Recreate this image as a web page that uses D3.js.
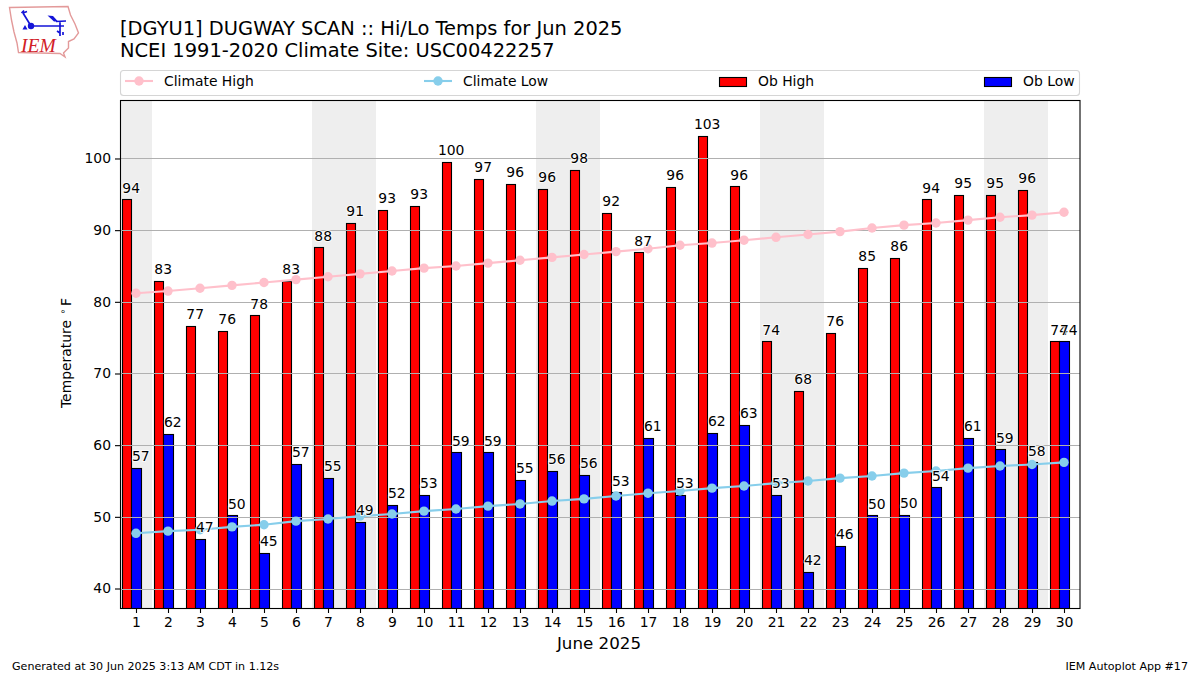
<!DOCTYPE html>
<html>
<head>
<meta charset="utf-8">
<script src="https://cdn.jsdelivr.net/npm/d3@7"></script>
<style>
html, body { margin: 0; padding: 0; background: #fff; }
svg { display: block; }
text { font-family: "DejaVu Sans", sans-serif; fill: #000; }
</style>
</head>
<body>
<svg></svg>
<script>
const width = 1200;
const height = 675;
const left = 120, right = 1080, top_ = 100, bottom = 608;

// day, ob high, ob low, climate high, climate low
const table = [
    [1, 94.3, 56.8, 81.2, 47.7],
    [2, 82.9, 61.6, 81.5, 48.0],
    [3, 76.6, 46.9, 81.9, 48.2],
    [4, 75.9, 50.2, 82.3, 48.6],
    [5, 78.1, 45.0, 82.7, 48.9],
    [6, 82.9, 57.4, 83.1, 49.4],
    [7, 87.6, 55.4, 83.5, 49.7],
    [8, 91.0, 49.3, 83.9, 50.1],
    [9, 92.8, 51.7, 84.3, 50.4],
    [10, 93.4, 53.1, 84.7, 50.8],
    [11, 99.5, 59.0, 85.0, 51.1],
    [12, 97.1, 59.0, 85.4, 51.5],
    [13, 96.4, 55.2, 85.8, 51.8],
    [14, 95.7, 56.4, 86.2, 52.2],
    [15, 98.4, 55.8, 86.6, 52.5],
    [16, 92.4, 53.4, 87.0, 52.9],
    [17, 86.9, 61.0, 87.4, 53.3],
    [18, 96.0, 53.1, 87.9, 53.6],
    [19, 103.1, 61.7, 88.2, 54.0],
    [20, 96.1, 62.8, 88.6, 54.3],
    [21, 74.49, 53.1, 89.0, 54.7],
    [22, 67.6, 42.3, 89.4, 55.0],
    [23, 75.7, 46.0, 89.8, 55.4],
    [24, 84.7, 50.2, 90.3, 55.7],
    [25, 86.1, 50.3, 90.7, 56.1],
    [26, 94.3, 54.1, 91.0, 56.4],
    [27, 94.9, 61.0, 91.4, 56.8],
    [28, 94.9, 59.4, 91.8, 57.1],
    [29, 95.6, 57.6, 92.1, 57.3],
    [30, 74.49, 74.49, 92.5, 57.6]
];
const data = table.map((d) => {
    return { day: d[0], high: d[1], low: d[2], chigh: d[3], clow: d[4] };
});

// weekend shading, first and last day of each block
const weekends = [[1, 1], [7, 8], [14, 15], [21, 22], [28, 29]];

let svg = d3.select("svg").attr("width", width).attr("height", height);

let xScale = d3.scaleLinear().domain([0.5, 30.5]).range([left, right]);
let yScale = d3.scaleLinear().domain([37.28, 108.16]).range([bottom, top_]);

svg.append("clipPath").attr("id", "plot")
    .append("rect")
    .attr("x", left).attr("y", top_)
    .attr("width", right - left).attr("height", bottom - top_);

let plot = svg.append("g").attr("clip-path", "url(#plot)");

//Weekend bands
plot.selectAll(".weekend").data(weekends).enter().append("rect")
    .attr("class", "weekend")
    .attr("x", (d) => xScale(d[0] - 0.5))
    .attr("width", (d) => xScale(d[1] + 0.5) - xScale(d[0] - 0.5))
    .attr("y", top_)
    .attr("height", bottom - top_)
    .attr("fill", "#eeeeee");

//Bars, the red ones first so the blue ones sit on top of them
function addBars(key, color, x0, x1) {
    plot.selectAll(".bar-" + key).data(data).enter().append("rect")
        .attr("class", "bar-" + key)
        .attr("x", (d) => Math.round(xScale(d.day + x0)) + 0.5)
        .attr("width", (d) => Math.round(xScale(d.day + x1)) - Math.round(xScale(d.day + x0)))
        .attr("y", (d) => Math.round(yScale(d[key])) + 0.5)
        .attr("height", (d) => bottom + 10 - yScale(d[key]))
        .attr("fill", color)
        .attr("stroke", "#000")
        .attr("stroke-width", 1.1);
}
addBars("high", "#ff0000", -0.44, -0.15);
addBars("low", "#0000ff", -0.15, 0.16);

//Grid goes above the bars but under the lines
const yTicks = [40, 50, 60, 70, 80, 90, 100];
plot.selectAll(".grid").data(yTicks).enter().append("line")
    .attr("class", "grid")
    .attr("x1", left).attr("x2", right)
    .attr("y1", (d) => Math.round(yScale(d)) + 0.5)
    .attr("y2", (d) => Math.round(yScale(d)) + 0.5)
    .attr("stroke", "#b0b0b0")
    .attr("stroke-width", 1.1);

//Climate lines
function addLine(key, color) {
    let line = d3.line().x((d) => xScale(d.day)).y((d) => yScale(d[key]));
    plot.append("path").datum(data)
        .attr("d", line)
        .attr("fill", "none")
        .attr("stroke", color)
        .attr("stroke-width", 2.1);
    plot.selectAll(".dot-" + key).data(data).enter().append("circle")
        .attr("class", "dot-" + key)
        .attr("cx", (d) => xScale(d.day))
        .attr("cy", (d) => yScale(d[key]))
        .attr("r", 4.7)
        .attr("fill", color);
}
addLine("chigh", "#ffc0cb");
addLine("clow", "#87ceeb");

//Value labels, with a white halo
let labels = [];
data.forEach((d) => {
    labels.push({ x: d.day - 0.15, v: d.high });
    labels.push({ x: d.day + 0.15, v: d.low });
});
svg.append("g").selectAll("text").data(labels).enter().append("text")
    .attr("x", (d) => xScale(d.x))
    .attr("y", (d) => yScale(d.v + 0.95))
    .attr("text-anchor", "middle")
    .attr("font-size", "13.9px")
    .attr("stroke", "#fff")
    .attr("stroke-width", 2)
    .attr("stroke-opacity", 0.8)
    .attr("paint-order", "stroke")
    .text((d) => Math.round(d.v));

//Axes
let xAxis = d3.axisBottom(xScale)
    .tickValues(data.map((d) => d.day))
    .tickFormat(d3.format("d"))
    .tickSize(5).tickPadding(4).tickSizeOuter(0);
let yAxis = d3.axisLeft(yScale)
    .tickValues(yTicks)
    .tickSize(5).tickPadding(4).tickSizeOuter(0);

let gx = svg.append("g").attr("transform", "translate(0," + bottom + ")").call(xAxis);
let gy = svg.append("g").attr("transform", "translate(" + left + ",0)").call(yAxis);
[gx, gy].forEach((g) => {
    g.select(".domain").remove();
    g.selectAll("text").attr("font-size", "13.9px").attr("font-family", "DejaVu Sans");
    g.selectAll("line").attr("stroke", "#000").attr("stroke-width", 1.1);
});

svg.append("rect")
    .attr("x", left + 0.5).attr("y", top_ + 0.5)
    .attr("width", right - left - 0.5).attr("height", bottom - top_)
    .attr("fill", "none")
    .attr("stroke", "#000")
    .attr("stroke-width", 1.1);

//Axis titles
svg.append("text")
    .attr("x", 599).attr("y", 649)
    .attr("text-anchor", "middle")
    .attr("font-size", "16.7px")
    .text("June 2025");

let yTitle = svg.append("text")
    .attr("transform", "translate(71,408) rotate(-90)")
    .attr("font-size", "13.9px");
yTitle.append("tspan").attr("x", 0).text("Temperature");
yTitle.append("tspan").attr("x", 93.5).attr("y", -5.5).attr("font-size", "9.7px").text("\u2218");
yTitle.append("tspan").attr("x", 102).attr("y", 0).text("F");

//Page titles and footers
svg.append("text").attr("x", 120).attr("y", 35).attr("font-size", "19.45px")
    .text("[DGYU1] DUGWAY SCAN :: Hi/Lo Temps for Jun 2025");
svg.append("text").attr("x", 120).attr("y", 57).attr("font-size", "19.45px")
    .text("NCEI 1991-2020 Climate Site: USC00422257");
svg.append("text").attr("x", 12).attr("y", 670).attr("font-size", "11.1px")
    .text("Generated at 30 Jun 2025 3:13 AM CDT in 1.12s");
svg.append("text").attr("x", 1188).attr("y", 670).attr("font-size", "11.1px")
    .attr("text-anchor", "end")
    .text("IEM Autoplot App #17");

//Legend
svg.append("rect")
    .attr("x", 120.5).attr("y", 70.5).attr("width", 959).attr("height", 25).attr("rx", 3)
    .attr("fill", "#fff").attr("stroke", "#d5d5d5").attr("stroke-width", 1.1);
const legend = [
    { name: "Climate High", color: "#ffc0cb", x: 125, type: "line" },
    { name: "Climate Low", color: "#87ceeb", x: 424, type: "line" },
    { name: "Ob High", color: "#ff0000", x: 719, type: "bar" },
    { name: "Ob Low", color: "#0000ff", x: 984, type: "bar" }
];
legend.forEach((d) => {
    if (d.type == "line") {
        svg.append("line").attr("x1", d.x).attr("x2", d.x + 28).attr("y1", 81).attr("y2", 81)
            .attr("stroke", d.color).attr("stroke-width", 2.1);
        svg.append("circle").attr("cx", d.x + 14).attr("cy", 81).attr("r", 4.7).attr("fill", d.color);
    } else {
        svg.append("rect").attr("x", d.x + 0.5).attr("y", 77.5).attr("width", 27).attr("height", 9)
            .attr("fill", d.color).attr("stroke", "#000").attr("stroke-width", 1.1);
    }
    svg.append("text").attr("x", d.x + 39).attr("y", 86).attr("font-size", "13.9px").text(d.name);
});

//IEM logo, Iowa outline with the station plot symbol inside
let logo = svg.append("g");
logo.append("path")
    .attr("d", "M9.5 7.5 L68 6.5 L70.5 15 L75 24 L78.5 33 L74 39 L68.5 41.5 L68.5 48 L63.5 53 L65 57 L60 53.5 L18.5 52.5 L17 43 L14 32 L11.5 20 Z")
    .attr("fill", "#fff").attr("stroke", "#e39a9a").attr("stroke-width", 1.4);
logo.append("path")
    .attr("d", "M31 26 L64 26 M31 26 L23 13 M21.5 13 L24 10.5 M23 13 L27 11.5 M56 21.5 L66 21 M60 22 L60 36 M57 31 L60 33 M63 32 L63 35")
    .attr("fill", "none").attr("stroke", "#1414d8").attr("stroke-width", 1.7);
logo.append("path").attr("d", "M47.5 15.5 L53 16 L58 21.5 L54 21.5 Z").attr("fill", "#1414d8");
logo.append("circle").attr("cx", 31).attr("cy", 26).attr("r", 3.2).attr("fill", "#1414d8");
logo.append("path").attr("d", "M25 25 L27.5 29.5 L22.5 29.5 Z").attr("fill", "#1414d8");
logo.append("text")
    .attr("x", 21).attr("y", 52)
    .attr("font-size", "19.5px")
    .attr("font-style", "italic")
    .style("font-family", "Liberation Serif")
    .style("fill", "#d22027")
    .text("IEM");
</script>
</body>
</html>
